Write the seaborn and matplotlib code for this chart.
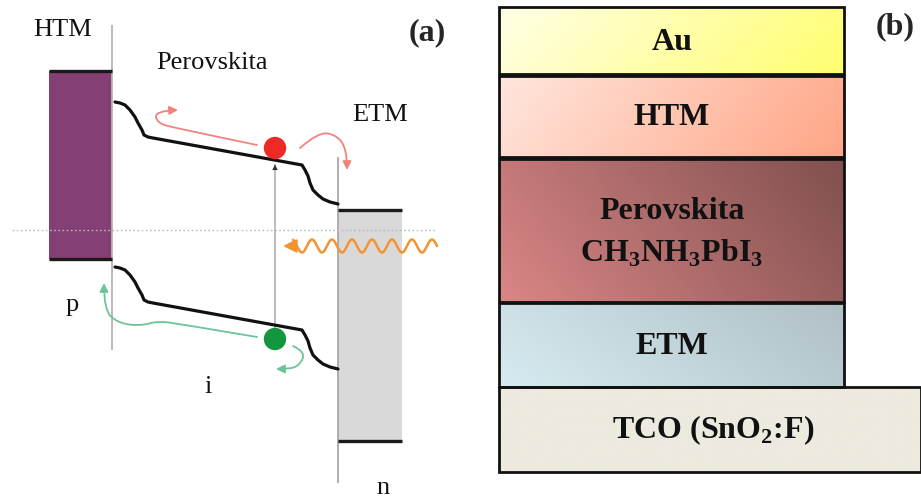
import numpy as np
import pandas as pd
import matplotlib
matplotlib.use("Agg")
import matplotlib.pyplot as plt
from matplotlib.patches import Rectangle, FancyArrowPatch
from matplotlib.path import Path
import seaborn as sns

sns.set_style("white")
plt.rcParams["font.family"] = ["Liberation Serif", "DejaVu Serif"]
plt.rcParams["mathtext.fontset"] = "custom"
plt.rcParams["mathtext.rm"] = "Liberation Serif"
plt.rcParams["mathtext.bf"] = "Liberation Serif:bold"

# ---------------- panel (a): band diagram of the p-i-n cell ----------------
band_x = [115, 120, 125, 130, 135, 138, 142, 144, 148, 153,
          302, 305, 308, 310, 313, 318, 323, 330, 338]
cb_level = [102, 103, 105, 110, 117, 123, 130, 135, 137, 138,
            165, 170, 176, 183, 190, 195, 199, 202, 204]
vb_level = [267, 268, 270, 275, 282, 288, 295, 300, 302, 303,
            330, 335, 341, 348, 355, 360, 364, 367, 369]

htm_edges = [71, 259]      # HTM valence / conduction edges
etm_edges = [210, 441]     # ETM conduction / valence edges
fermi_level = 230

carrier_x = [275, 275]
carrier_y = [148, 339]
carrier_kind = ["electron", "hole"]

region_labels = ["HTM", "Perovskita", "ETM", "p", "i", "n"]

# ---------------- panel (b): layer stack ----------------
layer_names = ["Au", "HTM", "Perovskita\nCH$_\\mathbf{3}$NH$_\\mathbf{3}$PbI$_\\mathbf{3}$",
               "ETM", "TCO (SnO$_\\mathbf{2}$:F)"]
layer_top = [7, 76, 159, 303, 387]
layer_bottom = [74, 157, 302, 387, 472]
layer_left = [499, 499, 499, 499, 499]
layer_right = [844, 844, 844, 844, 921]
layer_colors = [("#fffee6", "#ffff6e"), ("#ffe6de", "#ffa585"),
                ("#da8686", "#80504f"), ("#d6ebf1", "#b0c0c4"),
                ("#edeadf", "#edeadf")]

W, H = 921, 498
fig = plt.figure(figsize=(W / 100, H / 100), dpi=100)
ax = fig.add_axes([0, 0, 1, 1])
ax.set_xlim(0, W)
ax.set_ylim(H, 0)
ax.axis("off")

# HTM block
ax.add_patch(Rectangle((49, htm_edges[0]), 112 - 49, htm_edges[1] - htm_edges[0],
                       facecolor="#843f75", edgecolor="none", zorder=1))
ax.hlines(htm_edges, 49, 112, color="#1a1a1a", lw=2.4, zorder=3)
# ETM block
ax.add_patch(Rectangle((338, etm_edges[0]), 402 - 338, etm_edges[1] - etm_edges[0],
                       facecolor="#d9d9d9", edgecolor="none", zorder=1))
ax.hlines(etm_edges, 338, 402, color="#1a1a1a", lw=2.4, zorder=3)

# interfaces
ax.vlines(112, 25, 350, color="#b4b4b4", lw=1.3, zorder=2)
ax.vlines(338, 157, 483, color="#a8a8a8", lw=1.3, zorder=2)

# Fermi level
ax.hlines(fermi_level, 12, 437, color="#b8b8b8", lw=1.0, linestyles=(0, (1.2, 1.8)), zorder=2)

# band edges
bands = pd.DataFrame({"x": band_x * 2, "y": cb_level + vb_level,
                      "band": ["CB"] * len(band_x) + ["VB"] * len(band_x)})
sns.lineplot(data=bands, x="x", y="y", units="band", estimator=None, sort=False,
             color="#111111", lw=2.3, ax=ax, zorder=4, legend=False,
             solid_joinstyle="round", solid_capstyle="round")

# absorption (vertical excitation)
ax.add_patch(FancyArrowPatch((275, vb_level[10] + 1), (275, cb_level[10] - 0.5),
                             arrowstyle="-", color="#a9a9a9", lw=1.1, zorder=3,
                             shrinkA=0, shrinkB=0))
ax.add_patch(FancyArrowPatch((275, 175), (275, cb_level[10] - 0.5),
                             arrowstyle="-|>,head_length=4,head_width=2",
                             color="#333333", lw=0.0, zorder=3, shrinkA=0, shrinkB=0))

# carriers
carriers = pd.DataFrame({"x": carrier_x, "y": carrier_y, "kind": carrier_kind})
sns.scatterplot(data=carriers, x="x", y="y", hue="kind",
                palette={"electron": "#ee2a24", "hole": "#13963e"},
                s=260, edgecolor="none", ax=ax, zorder=5, legend=False)


def curved_arrow(points, color):
    # smooth quadratic chain through the guide points
    n = len(points)
    verts = [points[0]]
    codes = [Path.MOVETO]
    for i in range(1, n - 1):
        mid = ((points[i][0] + points[i + 1][0]) / 2, (points[i][1] + points[i + 1][1]) / 2)
        if i == n - 2:
            mid = points[i + 1]
        verts += [points[i], mid]
        codes += [Path.CURVE3, Path.CURVE3]
    ax.add_patch(FancyArrowPatch(path=Path(verts, codes),
                                 arrowstyle="-|>,head_length=5,head_width=2.5",
                                 color=color, lw=1.3, zorder=4))


# electron paths
curved_arrow([(257, 145), (175, 128), (157, 123), (155, 111), (178, 110)], "#f0837d")
curved_arrow([(300, 148), (318, 132), (337, 135), (347, 150), (347, 170)], "#f0837d")
# hole paths
curved_arrow([(257, 337), (180, 324), (158, 321), (140, 326), (118, 323),
              (104, 310), (104, 283)], "#6cc596")
curved_arrow([(293, 346), (306, 352), (299, 366), (288, 369), (276, 369)], "#6cc596")

# incoming light
wx = np.linspace(437, 293, 400)
wy = 246 + 6.5 * np.sin((wx - 437) / 20.0 * 2 * np.pi)
ax.plot(wx, wy, color="#f39433", lw=1.8, zorder=4, solid_capstyle="round")
ax.add_patch(FancyArrowPatch((295, 246), (283, 246),
                             arrowstyle="-|>,head_length=8,head_width=4",
                             color="#f39433", lw=1.6, zorder=4,
                             shrinkA=0, shrinkB=0))

label_pos = [(63, 30), (212, 63), (380, 115), (72, 305), (208, 387), (383, 488)]
for txt, (x, y) in zip(region_labels, label_pos):
    ax.text(x, y, txt, fontsize=19, ha="center", va="center", color="#111111")
ax.text(427, 33, "(a)", fontsize=23, fontweight="bold", ha="center", va="center")

# ---------------- panel (b) ----------------
def hex2rgb(h):
    h = h.lstrip("#")
    return np.array([int(h[i:i + 2], 16) / 255 for i in (0, 2, 4)])


gx, gy = np.meshgrid(np.linspace(0, 1, 200), np.linspace(0, 1, 100))
for i, name in enumerate(layer_names):
    x0, x1 = layer_left[i], layer_right[i]
    y0, y1 = layer_top[i], layer_bottom[i]
    c0, c1 = hex2rgb(layer_colors[i][0]), hex2rgb(layer_colors[i][1])
    # diagonal blend: bottom-left -> top-right (row 0 is the top row)
    t = np.clip(0.75 * gx + 0.25 * gy[::-1], 0, 1)
    if i in (0, 1):
        t = np.clip(0.85 * gx + 0.15 * gy, 0, 1)
    img = c0[None, None, :] * (1 - t[..., None]) + c1[None, None, :] * t[..., None]
    ax.imshow(img, extent=(x0, x1, y1, y0), origin="upper", aspect="auto",
              interpolation="bilinear", zorder=1)
    ax.add_patch(Rectangle((x0, y0), x1 - x0, y1 - y0, facecolor="none",
                           edgecolor="#111111", lw=2.0, zorder=3))

label_y = [42, 117, 233, 346, 430]
label_x = [672, 672, 672, 672, 713]
for i, name in enumerate(layer_names):
    ax.text(label_x[i], label_y[i], name, fontsize=23, fontweight="bold",
            ha="center", va="center", color="#111111", linespacing=1.5, zorder=5)
ax.text(895, 27, "(b)", fontsize=23, fontweight="bold", ha="center", va="center")

ax.set_xlim(0, W)
ax.set_ylim(H, 0)
fig.savefig("out.png", dpi=100)
